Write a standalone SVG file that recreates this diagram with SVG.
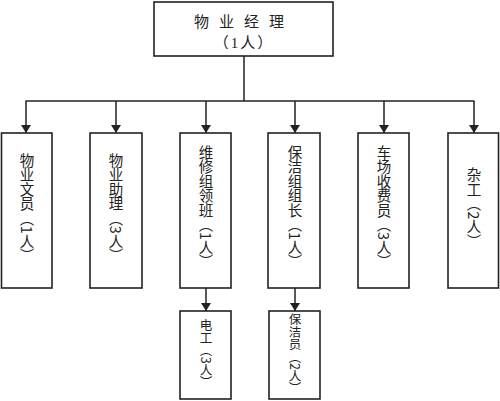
<svg xmlns="http://www.w3.org/2000/svg" width="500" height="401" viewBox="0 0 500 401">
<style>
.box{fill:#fff;stroke:#222;stroke-width:1.6}
.ln{fill:none;stroke:#222;stroke-width:1.5}
.t{font-family:"Liberation Serif","Noto Sans CJK SC",serif;font-size:15px;fill:#222}
.v{font-family:"Noto Sans CJK SC",sans-serif;font-size:14.5px;fill:#222;writing-mode:vertical-rl;text-anchor:middle}
.vs{font-size:12.5px}
</style>
<defs>
<marker id="ah" viewBox="0 0 8 10" refX="8" refY="5" markerWidth="8" markerHeight="10" markerUnits="userSpaceOnUse" orient="auto">
<path d="M0,0 L8,5 L0,10 Z" fill="#222"/>
</marker>
</defs>
<rect width="500" height="401" fill="#fff"/>
<g id="connectors">
<line class="ln" x1="244" y1="56" x2="244" y2="101"/>
<line class="ln" x1="25.5" y1="101" x2="474.5" y2="101"/>
<line class="ln" x1="26" y1="101" x2="26" y2="133" marker-end="url(#ah)"/>
<line class="ln" x1="116" y1="101" x2="116" y2="133" marker-end="url(#ah)"/>
<line class="ln" x1="206" y1="101" x2="206" y2="133" marker-end="url(#ah)"/>
<line class="ln" x1="295" y1="101" x2="295" y2="133" marker-end="url(#ah)"/>
<line class="ln" x1="384" y1="101" x2="384" y2="133" marker-end="url(#ah)"/>
<line class="ln" x1="474" y1="101" x2="474" y2="133" marker-end="url(#ah)"/>
<line class="ln" x1="206" y1="288" x2="206" y2="311" marker-end="url(#ah)"/>
<line class="ln" x1="295" y1="288" x2="295" y2="311" marker-end="url(#ah)"/>
</g>
<g id="n-manager">
<rect class="box" x="154" y="2" width="179" height="54"/>
<text class="t" x="244" y="27" text-anchor="middle" letter-spacing="10">物业经理</text>
<text class="t" x="244" y="48" text-anchor="middle" letter-spacing="2">（1人）</text>
</g>
<g id="n-clerk">
<rect class="box" x="1.5" y="133" width="50.5" height="155"/>
<text class="v" x="27" y="208">物业文员（1人）</text>
</g>
<g id="n-assistant">
<rect class="box" x="90" y="133" width="52" height="155"/>
<text class="v" x="116" y="208">物业助理（3人）</text>
</g>
<g id="n-repair">
<rect class="box" x="180" y="133" width="51" height="155"/>
<text class="v" x="206" y="207">维修组领班（1人）</text>
</g>
<g id="n-clean">
<rect class="box" x="268" y="133" width="52" height="155"/>
<text class="v" x="295" y="207">保洁组组长（1人）</text>
</g>
<g id="n-parking">
<rect class="box" x="358" y="133" width="51" height="155"/>
<text class="v" x="384" y="207">车场收费员（3人）</text>
</g>
<g id="n-misc">
<rect class="box" x="448" y="133" width="50.5" height="155"/>
<text class="v" x="474" y="208">杂工（2人）</text>
</g>
<g id="n-electrician">
<rect class="box" x="180" y="311" width="51" height="88"/>
<text class="v vs" x="206" y="354">电工（3人）</text>
</g>
<g id="n-cleaner">
<rect class="box" x="269" y="311" width="51" height="88"/>
<text class="v vs" x="295" y="354">保洁员（2人）</text>
</g>
</svg>
